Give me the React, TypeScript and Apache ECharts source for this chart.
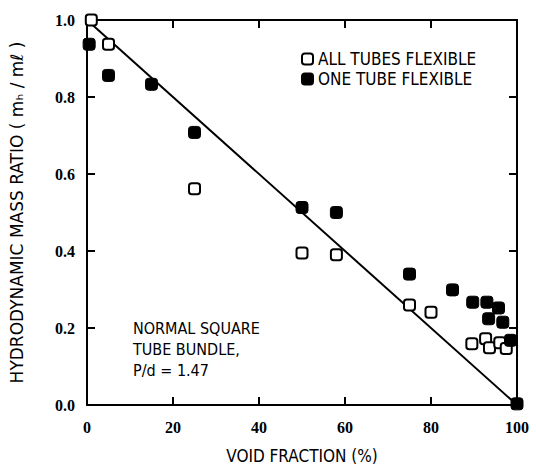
import React, { useEffect, useRef } from "react";
import * as echarts from "echarts";

const xTicks = [0, 20, 40, 60, 80, 100];
const yTicks = [0.0, 0.2, 0.4, 0.6, 0.8, 1.0];

const allTubesX = [1, 5, 25, 50, 58, 75, 80, 89.5, 92.7, 93.6, 96, 97.5];
const allTubesY = [1.0, 0.937, 0.562, 0.395, 0.39, 0.26, 0.241, 0.159, 0.172, 0.149, 0.162, 0.147];

const oneTubeX = [0.5, 5, 15, 25, 50, 58, 75, 85, 89.7, 93, 95.7, 93.4, 96.7, 98.5, 100];
const oneTubeY = [0.937, 0.856, 0.833, 0.708, 0.513, 0.5, 0.34, 0.299, 0.267, 0.267, 0.252, 0.224, 0.215, 0.168, 0.003];

const lineX = [0, 100];
const lineY = [1, 0];

const FONT = "DejaVu Sans Condensed";
const NUMFONT = "Liberation Sans Narrow";

export default function App() {
  const ref = useRef<HTMLDivElement>(null);
  useEffect(() => {
    if (!ref.current) return;
    const chart = echarts.init(ref.current, null, { renderer: "svg" });
    const labelStyle = { color: "#000", fontFamily: NUMFONT, fontSize: 16, fontWeight: "bold" as const };
    const mkAxisLine = () => ({ show: true, onZero: false, lineStyle: { color: "#000", width: 2 } });
    const mkTick = () => ({ show: true, inside: true, length: 8, lineStyle: { color: "#000", width: 2 } });
    const xMin = xTicks[0];
    const xMax = xTicks[xTicks.length - 1];
    const yMin = yTicks[0];
    const yMax = yTicks[yTicks.length - 1];
    const frameRender = (_params: any, api: any) => {
      const c = (x: number, y: number) => api.coord([x, y]);
      const bl = c(xMin, yMin);
      const tr = c(xMax, yMax);
      const st = { stroke: "#000", lineWidth: 2, fill: "none" };
      const children: any[] = [
        { type: "polyline", shape: { points: [[bl[0], bl[1]], [bl[0], tr[1]], [tr[0], tr[1]], [tr[0], bl[1]], [bl[0], bl[1]]] }, style: st },
      ];
      const L = 8;
      xTicks.forEach((v) => {
        const p = c(v, yMin);
        children.push({ type: "line", shape: { x1: p[0], y1: bl[1], x2: p[0], y2: bl[1] - L }, style: st });
        children.push({ type: "line", shape: { x1: p[0], y1: tr[1], x2: p[0], y2: tr[1] + L }, style: st });
      });
      yTicks.forEach((v) => {
        const p = c(xMin, v);
        children.push({ type: "line", shape: { x1: bl[0], y1: p[1], x2: bl[0] + L, y2: p[1] }, style: st });
        children.push({ type: "line", shape: { x1: tr[0], y1: p[1], x2: tr[0] - L, y2: p[1] }, style: st });
      });
      return { type: "group", children };
    };
    chart.setOption({
      animation: false,
      backgroundColor: "#fff",
      title: {
        text: "NORMAL SQUARE\nTUBE BUNDLE,\nP/d = 1.47",
        left: 128,
        top: 313,
        textStyle: { color: "#000", fontFamily: FONT, fontSize: 16, fontWeight: "normal", lineHeight: 21 },
      },
      grid: { left: 84, right: 19, top: 20, bottom: 61 },
      legend: {
        orient: "vertical",
        left: 296,
        top: 45,
        itemWidth: 11,
        itemHeight: 11,
        itemGap: 2,
        textStyle: { color: "#000", fontFamily: FONT, fontSize: 17, lineHeight: 18 },
        data: ["ALL TUBES FLEXIBLE", "ONE TUBE FLEXIBLE"],
      },
      xAxis: [
        {
          type: "value",
          position: "bottom",
          min: xMin,
          max: xMax,
          interval: xTicks[1] - xTicks[0],
          axisLine: mkAxisLine(),
          axisTick: mkTick(),
          splitLine: { show: false },
          axisLabel: { ...labelStyle, margin: 14 },
          name: "VOID FRACTION (%)",
          nameLocation: "middle",
          nameGap: 42,
          nameTextStyle: { color: "#000", fontFamily: FONT, fontSize: 17 },
        },
        {
          type: "value",
          position: "top",
          min: xMin,
          max: xMax,
          interval: xTicks[1] - xTicks[0],
          axisLine: mkAxisLine(),
          axisTick: mkTick(),
          splitLine: { show: false },
          axisLabel: { show: false },
        },
      ],
      yAxis: [
        {
          type: "value",
          position: "left",
          min: yMin,
          max: yMax,
          interval: yTicks[1] - yTicks[0],
          axisLine: mkAxisLine(),
          axisTick: mkTick(),
          splitLine: { show: false },
          axisLabel: { ...labelStyle, margin: 12, formatter: (v: number) => v.toFixed(1) },
          name: "HYDRODYNAMIC MASS RATIO ( mₕ / mℓ )",
          nameLocation: "middle",
          nameGap: 62,
          nameTextStyle: { color: "#000", fontFamily: "DejaVu Sans", fontSize: 17 },
        },
        {
          type: "value",
          position: "right",
          min: yMin,
          max: yMax,
          interval: yTicks[1] - yTicks[0],
          axisLine: mkAxisLine(),
          axisTick: mkTick(),
          splitLine: { show: false },
          axisLabel: { show: false },
        },
      ],
      series: [
        {
          name: "frame",
          type: "custom",
          coordinateSystem: "cartesian2d",
          xAxisIndex: 0,
          yAxisIndex: 0,
          data: [[xMin, yMin]],
          renderItem: frameRender,
          silent: true,
          clip: false,
          z: 0,
        },
        {
          name: "ideal",
          type: "line",
          data: lineX.map((x, i) => [x, lineY[i]]),
          showSymbol: false,
          symbol: "none",
          lineStyle: { color: "#000", width: 2 },
          z: 1,
        },
        {
          name: "ALL TUBES FLEXIBLE",
          type: "scatter",
          symbol: "roundRect",
          symbolSize: 11,
          data: allTubesX.map((x, i) => [x, allTubesY[i]]),
          itemStyle: { color: "#fff", borderColor: "#000", borderWidth: 2, opacity: 1 },
          z: 3,
        },
        {
          name: "ONE TUBE FLEXIBLE",
          type: "scatter",
          symbol: "roundRect",
          symbolSize: 12,
          data: oneTubeX.map((x, i) => [x, oneTubeY[i]]),
          itemStyle: { color: "#000", borderColor: "#000", borderWidth: 1, opacity: 1 },
          z: 4,
        },
      ],
    });
    return () => chart.dispose();
  }, []);
  return <div ref={ref} style={{ width: 536, height: 469, position: "absolute", left: 0, top: 0 }} />;
}
